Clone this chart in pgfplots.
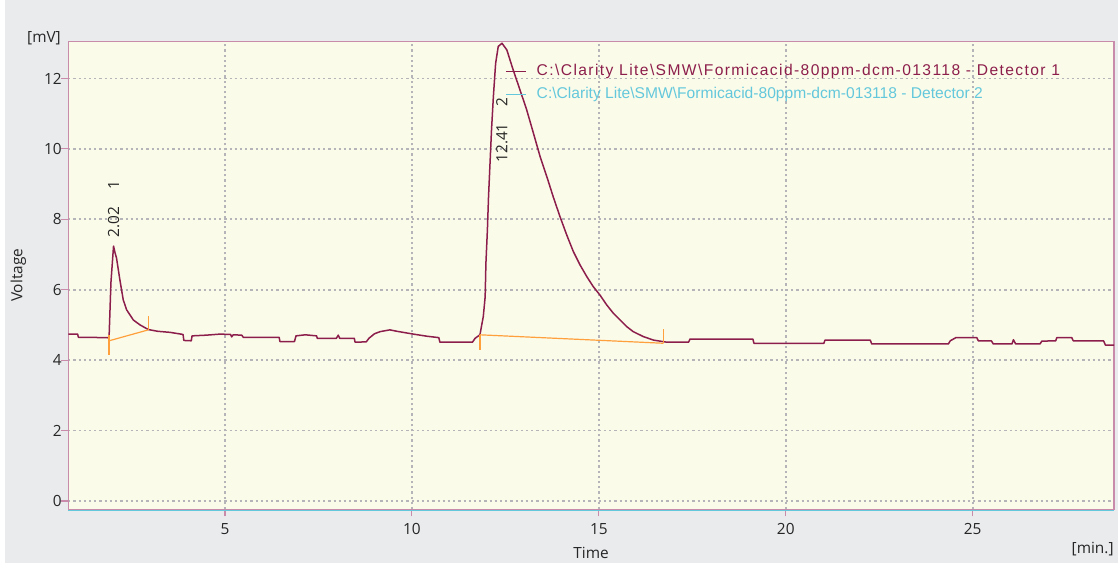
\documentclass[border=0pt]{standalone}
\usepackage{pgfplots}
\pgfplotsset{compat=1.18}
\usepackage{fontspec}
\setmainfont{Open Sans}
\newfontfamily\legfont{Liberation Sans}

\definecolor{panel}{RGB}{234,235,237}
\definecolor{plotbg}{RGB}{251,251,233}
\definecolor{frame}{RGB}{200,140,170}
\definecolor{det1}{RGB}{140,30,75}
\definecolor{det2}{RGB}{100,200,220}
\definecolor{intbase}{RGB}{255,160,60}
\definecolor{gridc}{RGB}{180,180,185}

\newcommand{\lbl}{\fontsize{7.7}{9}\selectfont}

\begin{document}
\begin{tikzpicture}
% panel behind the chart
\useasboundingbox (-34.15pt,-27.85pt) rectangle (524.85pt,254.65pt);
\fill[white] (-34.15pt,-27.85pt) rectangle (524.85pt,254.65pt);
\fill[panel] (-31.65pt,-26.85pt) rectangle (524.85pt,254.65pt);

\begin{axis}[
  at={(0pt,0pt)}, anchor=south west,
  scale only axis, width=522.85pt, height=233.9pt,
  xmin=0.81, xmax=28.78, ymin=-0.235, ymax=13.05,
  axis background/.style={fill=plotbg},
  axis line style={frame, line width=0.6pt},
  xtick={5,10,15,20,25}, ytick={0,2,4,6,8,10,12},
  xtick pos=lower, ytick pos=left,
  tick align=outside, major tick length=3.5pt,
  tick style={frame, line width=0.6pt},
  grid=major,
  major grid style={gridc, line width=0.9pt, dash pattern=on 1.1pt off 1.5pt},
  tick label style={font=\lbl, text=black!85},
  yticklabel style={inner xsep=0pt, xshift=0.4pt},
  /pgf/number format/assume math mode=true,
  xlabel={Time}, ylabel={Voltage},
  xlabel style={font=\lbl, text=black!85, at={(axis description cs:0.5,-0.0934)}, anchor=center},
  ylabel style={font=\lbl, text=black!85, at={(axis description cs:-0.0478,0.5)}, anchor=center},
  legend style={at={(rel axis cs:0.4176,0.911)}, anchor=west, draw=none, fill=none,
    inner sep=0pt, row sep=4.4pt, font=\legfont\fontsize{7.8}{9}\selectfont,
    nodes={inner sep=0pt, text height=5.6pt, text depth=1.6pt}},
  legend cell align=left,
  legend image code/.code={\draw[#1, line width=0.6pt] (0pt,0pt) -- (10pt,0pt);
    \path (15pt,0pt);},
]

% detector 1 trace
\addplot[det1, line width=0.75pt, line join=round] coordinates {
(0.81,4.74) (1.06,4.74) (1.08,4.65) (1.86,4.64) (1.90,4.62) (1.95,6.20)
(2.02,7.24) (2.06,7.05) (2.10,6.90) (2.19,6.28) (2.28,5.71) (2.37,5.43)
(2.55,5.14) (2.73,5.00) (2.95,4.87) (3.20,4.82) (3.53,4.79) (3.88,4.73)
(3.90,4.56) (4.10,4.55) (4.12,4.69) (4.50,4.71) (4.87,4.74) (5.15,4.73)
(5.18,4.66) (5.22,4.72) (5.45,4.71) (5.49,4.65) (6.45,4.65) (6.47,4.53)
(6.86,4.53) (6.90,4.69) (7.15,4.72) (7.45,4.69) (7.47,4.62) (7.98,4.62)
(8.03,4.71) (8.07,4.62) (8.46,4.62) (8.48,4.51) (8.78,4.52) (8.85,4.62)
(9.00,4.75) (9.15,4.81) (9.41,4.86) (9.60,4.82) (10.04,4.74) (10.40,4.68)
(10.72,4.64) (10.75,4.51) (11.62,4.51) (11.69,4.62) (11.82,4.72)
(11.91,5.24) (11.96,5.80) (11.98,6.75) (12.02,7.70) (12.05,8.64)
(12.09,9.59) (12.13,10.54) (12.18,11.49) (12.24,12.43) (12.31,12.91)
(12.41,13.00) (12.54,12.81) (12.71,12.24) (12.89,11.68) (13.07,11.11)
(13.25,10.45) (13.43,9.78) (13.61,9.21) (13.78,8.64) (13.96,8.08)
(14.14,7.56) (14.32,7.08) (14.50,6.70) (14.68,6.37) (14.85,6.09)
(15.03,5.85) (15.21,5.57) (15.39,5.33) (15.57,5.14) (15.75,4.95)
(15.92,4.81) (16.19,4.67) (16.46,4.57) (16.82,4.51) (17.40,4.51)
(17.44,4.60) (19.12,4.60) (19.15,4.48) (21.02,4.48) (21.05,4.57)
(22.26,4.57) (22.30,4.46) (24.35,4.46) (24.40,4.55) (24.55,4.64)
(25.11,4.64) (25.15,4.55) (25.50,4.55) (25.55,4.46) (26.05,4.46)
(26.09,4.58) (26.15,4.46) (26.80,4.46) (26.85,4.54) (27.22,4.55)
(27.25,4.64) (27.65,4.64) (27.69,4.55) (28.50,4.55) (28.55,4.43) (28.78,4.43)
};
\addlegendentry{\textcolor{det1}{\addfontfeature{LetterSpace=9}C:\textbackslash Clarity Lite\textbackslash SMW\textbackslash Formicacid-80ppm-dcm-013118 - Detector 1}}
\addlegendimage{det2}
\addlegendentry{\textcolor{det2}{C:\textbackslash Clarity Lite\textbackslash SMW\textbackslash Formicacid-80ppm-dcm-013118 - Detector 2}}

% integration baselines and peak limits
\addplot[intbase, line width=0.6pt, forget plot] coordinates {(1.90,4.55) (2.95,4.86)};
\addplot[intbase, line width=0.6pt, forget plot] coordinates {(1.90,4.72) (1.90,4.15)};
\addplot[intbase, line width=0.6pt, forget plot] coordinates {(2.95,5.26) (2.95,4.86)};
\addplot[intbase, line width=0.6pt, forget plot] coordinates {(11.82,4.72) (16.73,4.48)};
\addplot[intbase, line width=0.6pt, forget plot] coordinates {(11.82,4.72) (11.82,4.29)};
\addplot[intbase, line width=0.6pt, forget plot] coordinates {(16.73,4.88) (16.73,4.48)};

% peak annotations
\node[rotate=90, anchor=west, font=\lbl, text=black!85, inner sep=0pt] at (axis cs:2.02,7.47) {2.02\hspace{9pt}1};
\node[rotate=90, anchor=west, font=\lbl, text=black!85, inner sep=0pt] at (axis cs:12.41,9.60) {12.41\hspace{8.5pt}2};
\end{axis}

% second detector time axis line and unit labels
\draw[det2, line width=0.35pt] (0pt,-0.6pt) -- (522.85pt,-0.6pt);
\node[font=\lbl, text=black!85] at (-12.15pt,235.4pt) {[mV]};
\node[font=\lbl, text=black!85, anchor=east, inner sep=0pt] at (522.85pt,-19.85pt) {[min.]};
\end{tikzpicture}
\end{document}
